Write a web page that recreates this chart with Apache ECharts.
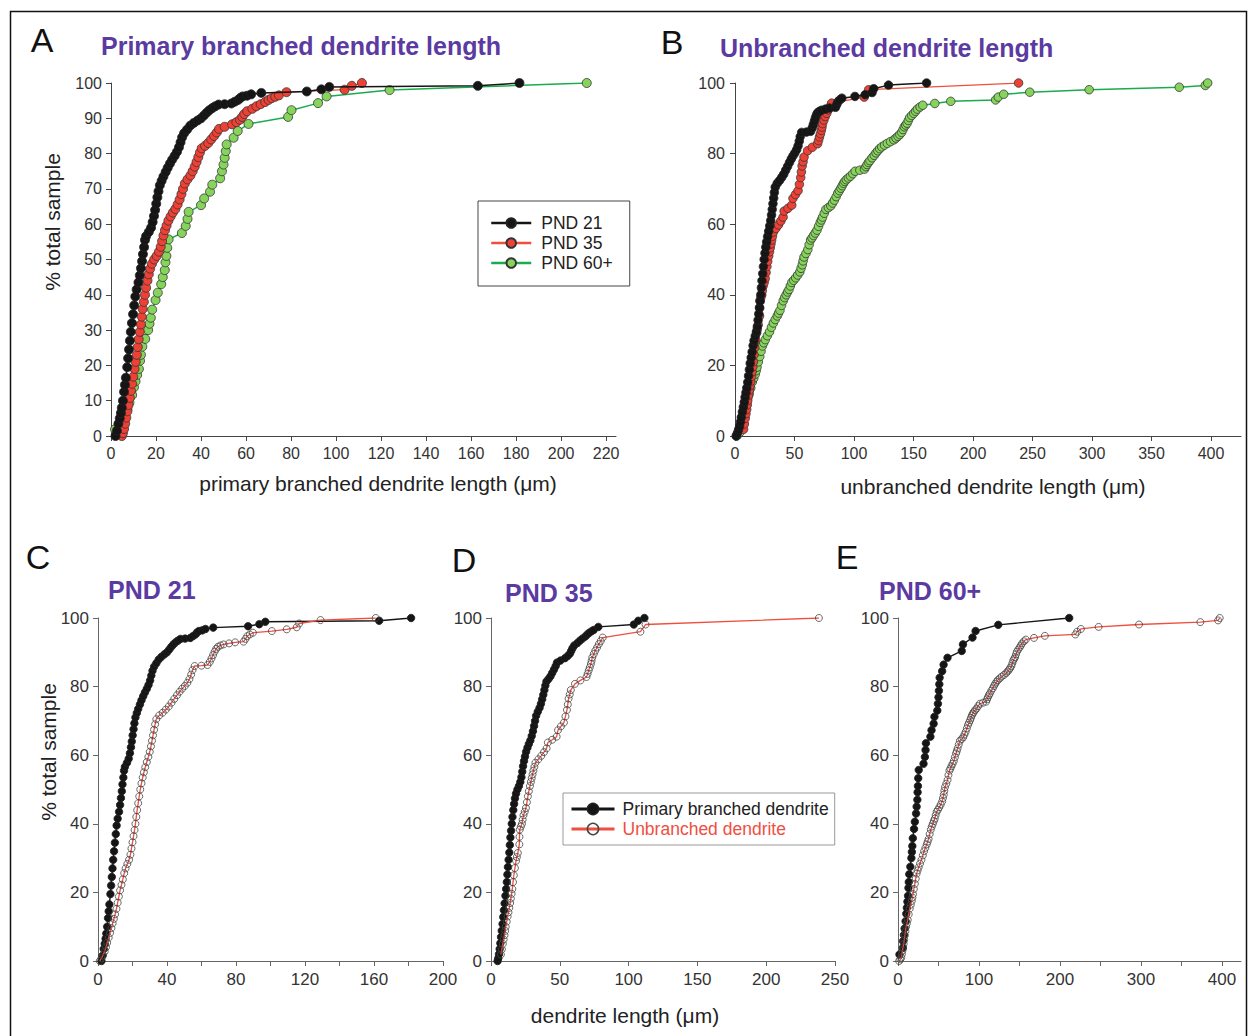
<!DOCTYPE html>
<html>
<head>
<meta charset="utf-8">
<script src="https://cdn.jsdelivr.net/npm/echarts@6/dist/echarts.min.js"></script>
<style>
html,body{margin:0;padding:0;background:#fff;}
#chart{width:1249px;height:1036px;}
</style>
</head>
<body>
<div id="chart"></div>
<script>
// ---------- DATA (x = length in µm, y = cumulative % of total sample) ----------
const pnd21Primary = [[2,0],[2.6,1.5],[3.3,3.5],[3.9,5],[4.4,6.5],[4.8,8],[5.3,10],[5.8,12.5],[6.2,14.5],[6.6,16.5],[7.2,19.5],[7.6,22],[8,24.5],[8.4,27],[8.8,29.5],[9.3,32],[9.8,34.5],[10.3,37],[10.8,39.5],[11.4,41.5],[12.2,43.5],[12.8,45.5],[13.3,47.5],[13.8,49.5],[14.2,51.5],[14.7,53.5],[15.1,55.5],[15.6,56.6],[16.8,57.8],[17.8,59],[18.5,60.6],[19.1,62.3],[19.6,64],[20.1,65.8],[20.6,67.6],[21.1,69.3],[21.7,71],[22.5,72.3],[23.3,73.5],[24.3,74.8],[25.2,76],[26.2,77.2],[27.2,78.3],[28.3,79.4],[29.3,80.5],[30.2,81.8],[30.9,83.2],[31.6,84.6],[32.5,85.8],[33.8,86.8],[35.2,87.9],[36.8,88.7],[38.5,89.4],[40,90],[41.3,90.8],[42.5,91.6],[43.7,92.3],[45,92.9],[46.3,93.4],[47.8,93.9],[50.5,94],[53.5,94.2],[55,94.7],[56.5,95.2],[57.5,95.8],[58.5,96.2],[60.5,96.4],[62.3,96.8],[66.8,97.2],[87,97.6],[93.5,98.2],[97,98.9],[163,99.2],[181.5,100]];
const pnd35Primary = [[4.8,0],[5.3,0.8],[5.8,2],[6.3,3.5],[6.8,5.2],[7.3,7],[7.8,8.8],[8.4,10.8],[8.9,12.8],[9.4,14.8],[9.9,16.8],[10.5,19],[11,21],[11.5,23],[11.9,25.2],[12.3,27.4],[12.8,29.5],[13.3,31.6],[13.7,33.8],[14.1,36],[14.6,38],[15.1,40],[15.6,42],[16.2,44],[16.8,45.8],[17.4,47.4],[18.2,48.8],[19.2,50],[20.3,51],[21.3,52.2],[22.1,53.6],[22.7,55.2],[23.3,56.8],[24,58.3],[24.7,59.6],[25.5,61],[26.5,62.2],[27.5,63.3],[28.6,64.3],[29.6,65.6],[30.5,67],[31.3,68.5],[32,70],[32.8,71.5],[34,72.7],[35.3,73.8],[36.3,75],[37.2,76.3],[38,77.6],[38.8,79],[39.5,80.3],[40.3,81.5],[41.8,82.2],[43.2,83],[44.5,84],[45.8,85],[47,86],[48,87],[50.5,87.6],[53.8,88.3],[55.7,88.9],[57.3,89.6],[58.3,90.4],[59.2,91.2],[60.5,92],[62.8,92.7],[64.6,93.4],[66.5,94],[68.5,94.6],[70,95.2],[71.4,95.7],[73,96.1],[74.6,96.5],[78,97.4],[103.8,98.1],[107,99.2],[111.5,100]];
const pnd60Primary = [[1.8,1.9],[6,3.8],[6.3,5.8],[7.3,7.6],[8.2,9.5],[9.4,11.6],[10.2,13.8],[10.9,15.5],[11.6,17.3],[12.4,19],[12.9,21.3],[13.3,23],[13.9,25.3],[15.2,27.5],[16.5,30],[17.1,31.8],[17.7,33.5],[18.3,35.8],[19.8,38.5],[20.8,40.6],[22.3,43],[23,45],[23.9,47],[24.2,49.2],[24.6,51],[25,53.3],[25.6,55.7],[31.5,57.5],[33.2,59.5],[34,61.5],[34.5,63.5],[40,65.4],[41.4,67.3],[44,69.2],[45,71.2],[48.5,73],[49.3,75],[50,76.9],[50.5,78.8],[51,80.7],[51.4,82.6],[54.5,84.5],[56.3,86.4],[61.1,88.4],[78.7,90.4],[80.2,92.3],[92,94.3],[95.8,96.2],[123.8,98],[211.4,100]];
const pnd21Unbranched = [[1,0],[2,0.8],[3,1.8],[3.9,2.8],[4.6,4],[5.3,5.3],[6.2,6.8],[7,8.2],[7.8,9.6],[8.5,11],[9.2,12.3],[9.9,13.6],[10.7,15.2],[11.4,17],[12.1,18.8],[12.8,20.6],[13.6,22.2],[14.4,23.8],[15.2,25.6],[16,27],[17,28.3],[18,29.5],[18.8,31],[19.4,32.8],[20,34.6],[20.6,36.4],[21.2,38.2],[21.7,40],[22.2,42],[22.7,44],[23.3,46],[23.9,48],[24.5,50],[25.2,51.8],[25.9,53.5],[26.6,55],[27.4,56.5],[28.3,58],[29.2,59.5],[30,61],[30.7,62.6],[31.3,64.2],[31.9,65.8],[32.5,67.4],[33.1,69],[33.8,70.5],[35.5,71.6],[37.5,72.4],[39.3,73.3],[41,74.2],[42.6,75.3],[44.2,76.4],[45.8,77.5],[47.3,78.5],[48.8,79.4],[50.3,80.2],[51.8,81.1],[53,82.2],[54,83.5],[54.8,84.8],[56,86],[60,86.1],[63.5,86.3],[64.8,87.2],[65.8,88.2],[66.7,89.2],[67.6,90.2],[68.5,91],[69.5,91.6],[71,92],[72.8,92.3],[76,92.6],[79.5,92.9],[84.4,93.1],[85.5,93.9],[86.5,94.7],[88,95.2],[89.8,95.7],[100.8,96.2],[109.4,96.7],[115.2,97.3],[116.6,98.4],[129,99.4],[161,100]];
const pnd35Unbranched = [[7.2,1.9],[7.9,3.4],[8.6,5],[9.2,6.3],[9.8,7.5],[10.3,8.8],[10.7,10],[11.4,11.5],[12.1,13],[12.7,14.2],[13.3,15.5],[13.9,16.9],[14.4,18.2],[15,19.6],[15.5,21],[16,23],[16.6,25],[17.4,27.1],[18.2,29.2],[18.8,30.3],[19.5,31.5],[20.6,34],[20.7,36.2],[20.9,38.3],[21.7,39.2],[22.5,40],[23,41.2],[23.6,42.5],[24.5,43.5],[25.4,44.6],[26.1,46.3],[26.8,48],[27.5,49.5],[28.3,51],[29,52.2],[29.6,53.3],[30.2,54.4],[30.8,55.5],[31.5,56.6],[32.3,57.8],[34.4,58.8],[36.5,59.8],[38.5,60.9],[40.4,62],[41.3,63.7],[44.5,64.5],[47.7,65.4],[48.7,67.3],[50.8,68.4],[53,69.5],[54.1,71.3],[55.2,73.2],[55.8,74.8],[56.4,76.5],[57.2,77.7],[58,79],[61,80.8],[65,81.8],[69.4,82.8],[70.2,83.7],[71,84.7],[71.8,85.6],[72.6,86.6],[73.1,87.5],[73.6,88.5],[74.7,89.5],[75.8,90.5],[77.1,91.4],[78.4,92.4],[79.8,93.3],[81.2,94.3],[108.6,96],[112.3,98.1],[238.3,100]];
const pnd60Unbranched = [[1.4,0],[2.8,0.5],[4.1,1],[4.8,2],[5.5,3],[6.2,4],[7,5],[7.7,6.2],[8.5,7.5],[9.2,8.7],[10,10],[11,11],[12,12],[13.2,13.6],[14.5,15.3],[15.8,16.4],[17,17.5],[17.8,18.5],[18.5,19.5],[19.6,21],[20.8,22.5],[21.9,24],[23,25.5],[24.2,26.4],[25.5,27.3],[27.2,28.4],[29,29.5],[30.6,30.8],[32.2,32],[33.8,33],[35.5,34],[36.6,34.8],[37.8,35.6],[39.1,37],[40.5,38.3],[41.7,39.2],[43,40],[44.2,40.8],[45.4,41.5],[46.5,42.5],[47.7,43.5],[49.3,44.1],[51,44.8],[52.7,45.6],[54.5,46.5],[55.5,47.5],[56.5,48.5],[57.2,49.6],[58,50.7],[59.6,51.7],[61.2,52.8],[62.3,54.2],[63.5,55.5],[64.7,56.1],[66,56.8],[67.4,57.5],[68.9,58.3],[70.2,59.4],[71.6,60.5],[72.6,61.2],[73.6,62],[75,63.1],[76.4,64.2],[78.5,64.7],[80.5,65.2],[82,66],[83.5,66.8],[85,67.8],[86.4,68.8],[87.7,69.5],[89,70.2],[90.1,70.9],[91.2,71.6],[92.3,72.1],[93.5,72.6],[95.2,73.1],[97,73.6],[99,74.3],[101,75],[104.9,75.3],[108.8,75.6],[110,76.3],[111,76.9],[112.2,77.5],[113.4,78],[115.2,78.8],[117,79.5],[118.5,80.2],[120,80.8],[121.6,81.4],[123.3,81.9],[125.6,82.4],[128,82.9],[130.7,83.4],[133.5,83.9],[135.3,84.4],[137,84.9],[138.5,85.4],[140,86],[141.2,86.8],[142.3,87.6],[143.5,88.1],[144.6,88.6],[145.7,89.4],[146.8,90.2],[148.5,90.8],[150.2,91.4],[151.7,92],[153.2,92.6],[155.5,93.2],[157.8,93.7],[167.9,94.2],[181.3,94.8],[219,95.2],[221.2,96],[225.8,96.8],[247.7,97.4],[297.6,98.1],[373.3,98.8],[395.2,99.3],[397.2,100]];

// tick labels
const ticksA = [0,20,40,60,80,100,120,140,160,180,200,220];
const ticksB = [0,50,100,150,200,250,300,350,400];
const ticksC = [0,20,40,60,80,100,120,140,160,180,200];
const labelsC = [0,40,80,120,160,200];
const ticksD = [0,50,100,150,200,250];
const ticksE = [0,50,100,150,200,250,300,350,400];
const labelsE = [0,100,200,300,400];
const groupNames = ['PND 21','PND 35','PND 60+'];
const typeNames = ['Primary branched dendrite','Unbranched dendrite'];

// ---------- STYLE ----------
const FONT = '"Liberation Sans", Arial, sans-serif';
const PURPLE = '#5b3aa1';
const RED = '#f04e3f';
const RED_FILL = '#ee4136';
const GREEN = '#1aab4d';
const GREEN_FILL = '#86d45c';
const BLACK = '#151515';
const OPEN = 'rgba(255,255,255,0)';

function xAx(gi, max, ticks, labels, fs, axColor, margin){
  return {
    type:'value', gridIndex:gi, min:0, max:max,
    axisLine:{show:true, lineStyle:{color:axColor, width:1}},
    axisTick:{show:true, length:5, customValues:ticks, lineStyle:{color:axColor}},
    axisLabel:{customValues:labels, fontSize:fs, color:'#333', fontFamily:FONT, margin:margin},
    splitLine:{show:false}
  };
}
function yAx(gi, interval, fs, axColor, margin){
  return {
    type:'value', gridIndex:gi, min:0, max:100, interval:interval,
    axisLine:{show:true, lineStyle:{color:axColor, width:1}},
    axisTick:{show:true, length:5, lineStyle:{color:axColor}},
    axisLabel:{fontSize:fs, color:'#333', fontFamily:FONT, margin:margin},
    splitLine:{show:false}
  };
}
function ser(name, data, idx, lineColor, fill, border, size, lw, z){
  return {
    type:'line', name:name, data:data, xAxisIndex:idx, yAxisIndex:idx,
    symbol:'circle', symbolSize:size, showAllSymbol:true, z:z,
    lineStyle:{color:lineColor, width:lw},
    itemStyle:{color:fill, borderColor:border, borderWidth:0.8},
    emphasis:{disabled:true}
  };
}
function txt(x, y, s, fs, color, bold){
  return {type:'text', x:x, y:y, style:{text:s, fontSize:fs, fontWeight:bold?'bold':'normal', fill:color, fontFamily:FONT, textAlign:'left', textVerticalAlign:'middle'}};
}
function ctxt(x, y, s, fs, color, rot){
  return {type:'text', x:x, y:y, rotation:rot||0, style:{text:s, fontSize:fs, fill:color, fontFamily:FONT, textAlign:'center', textVerticalAlign:'middle'}};
}

const option = {
  animation:false,
  backgroundColor:'#fff',
  textStyle:{fontFamily:FONT},
  grid:[
    {left:111, top:83, width:505, height:353},
    {left:735, top:83, width:506, height:353},
    {left:98, top:618, width:345, height:343},
    {left:491, top:618, width:344, height:343},
    {left:898, top:618, width:343, height:343}
  ],
  xAxis:[
    xAx(0, 224.4, ticksA, ticksA, 16, '#444', 9),
    xAx(1, 425.2, ticksB, ticksB, 16, '#444', 9),
    xAx(2, 200, ticksC, labelsC, 17, '#666', 10),
    xAx(3, 250, ticksD, ticksD, 17, '#666', 10),
    xAx(4, 423.5, ticksE, labelsE, 17, '#666', 10)
  ],
  yAxis:[
    yAx(0, 10, 16, '#444', 9),
    yAx(1, 20, 16, '#444', 10),
    yAx(2, 20, 17, '#666', 9),
    yAx(3, 20, 17, '#666', 9),
    yAx(4, 20, 17, '#666', 9)
  ],
  legend:[
    {
      data:groupNames, orient:'vertical', left:478, top:201,
      padding:[13,17,14,12], itemGap:2, itemWidth:40, itemHeight:12,
      backgroundColor:'#fff', borderColor:'#444', borderWidth:1,
      lineStyle:{width:2.5},
      textStyle:{fontSize:17.5, color:'#222', fontFamily:FONT, padding:[0,0,0,5]},
      selectedMode:false
    },
    {
      data:[{name:typeNames[0]},{name:typeNames[1], textStyle:{color:RED}}],
      orient:'vertical', left:563, top:793,
      padding:[7,6,7,7], itemGap:2, itemWidth:43, itemHeight:14,
      backgroundColor:'#fff', borderColor:'#999', borderWidth:1,
      lineStyle:{width:3},
      itemStyle:{borderWidth:1.5},
      textStyle:{fontSize:17.5, color:'#222', fontFamily:FONT, padding:[0,0,0,3]},
      selectedMode:false
    }
  ],
  series:[
    ser(groupNames[2], pnd60Primary, 0, GREEN, GREEN_FILL, '#333', 9, 1.5, 2),
    ser(groupNames[1], pnd35Primary, 0, RED, RED_FILL, '#333', 9, 1.3, 3),
    ser(groupNames[0], pnd21Primary, 0, BLACK, BLACK, '#222', 9, 1.5, 4),
    ser(groupNames[2], pnd60Unbranched, 1, GREEN, GREEN_FILL, '#333', 8.5, 1.5, 2),
    ser(groupNames[1], pnd35Unbranched, 1, RED, RED_FILL, '#333', 8.5, 1.3, 3),
    ser(groupNames[0], pnd21Unbranched, 1, BLACK, BLACK, '#222', 8.5, 1.5, 4),
    ser(typeNames[0], pnd21Primary, 2, BLACK, BLACK, '#222', 7.5, 1.4, 3),
    ser(typeNames[1], pnd21Unbranched, 2, RED, OPEN, '#444', 7, 1.3, 4),
    ser(typeNames[0], pnd35Primary, 3, BLACK, BLACK, '#222', 7.5, 1.4, 3),
    ser(typeNames[1], pnd35Unbranched, 3, RED, OPEN, '#444', 7, 1.3, 4),
    ser(typeNames[0], pnd60Primary, 4, BLACK, BLACK, '#222', 7.5, 1.4, 3),
    ser(typeNames[1], pnd60Unbranched, 4, RED, OPEN, '#444', 7, 1.3, 4)
  ],
  graphic:[
    {type:'rect', shape:{x:10.5, y:11.5, width:1236, height:1040}, style:{fill:'none', stroke:'#111', lineWidth:1.5}, silent:true},
    ctxt(42, 40, 'A', 34, '#111'),
    txt(101, 46, 'Primary branched dendrite length', 25, PURPLE, true),
    ctxt(672, 42, 'B', 34, '#111'),
    txt(720, 48, 'Unbranched dendrite length', 25, PURPLE, true),
    ctxt(38, 557, 'C', 34, '#111'),
    txt(108, 590, 'PND 21', 25, PURPLE, true),
    ctxt(464, 560, 'D', 34, '#111'),
    txt(505, 593, 'PND 35', 25, PURPLE, true),
    ctxt(847, 557, 'E', 34, '#111'),
    txt(879, 591, 'PND 60+', 25, PURPLE, true),
    ctxt(52, 222, '% total sample', 21, '#222', Math.PI/2),
    ctxt(48, 752, '% total sample', 21, '#222', Math.PI/2),
    ctxt(378, 483, 'primary branched dendrite length (\u03bcm)', 21, '#222'),
    ctxt(993, 486, 'unbranched dendrite length (\u03bcm)', 21, '#222'),
    ctxt(625, 1015, 'dendrite length (\u03bcm)', 21, '#222')
  ]
};

const chart = echarts.init(document.getElementById('chart'), null, {renderer:'svg', width:1249, height:1036});
chart.setOption(option);
</script>
</body>
</html>
